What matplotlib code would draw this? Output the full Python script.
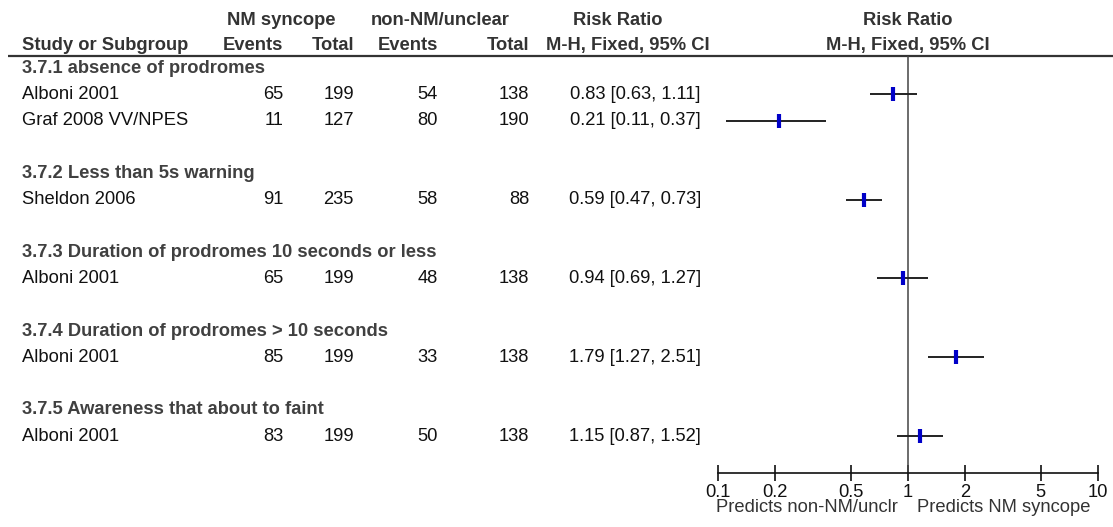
import matplotlib
matplotlib.use("Agg")
import matplotlib.pyplot as plt
import numpy as np

plt.rcParams['font.family'] = ['Liberation Sans', 'DejaVu Sans']

# --- data ---
groups = ["3.7.1 absence of prodromes",
          "3.7.2 Less than 5s warning",
          "3.7.3 Duration of prodromes 10 seconds or less",
          "3.7.4 Duration of prodromes > 10 seconds",
          "3.7.5 Awareness that about to faint"]
studies = ["Alboni 2001", "Graf 2008 VV/NPES", "Sheldon 2006",
           "Alboni 2001", "Alboni 2001", "Alboni 2001"]
study_group = [0, 0, 1, 2, 3, 4]
nm_events = [65, 11, 91, 65, 85, 83]
nm_total = [199, 127, 235, 199, 199, 199]
non_events = [54, 80, 58, 48, 33, 50]
non_total = [138, 190, 88, 138, 138, 138]
rr = [0.83, 0.21, 0.59, 0.94, 1.79, 1.15]
ci_lo = [0.63, 0.11, 0.47, 0.69, 1.27, 0.87]
ci_hi = [1.11, 0.37, 0.73, 1.27, 2.51, 1.52]
ticks = [0.1, 0.2, 0.5, 1, 2, 5, 10]
tick_labels = ["0.1", "0.2", "0.5", "1", "2", "5", "10"]
left_label = "Predicts non-NM/unclr"
right_label = "Predicts NM syncope"

# --- layout (pixels of a 1113x527 canvas) ---
W, H = 1113, 527
ROW0, ROW_H = 68, 26.3          # y of first row, row spacing
AX_TOP, AX_BOT = 56, 473        # header rule / forest axis line
FX0, FX1 = 718, 1098            # forest x-range (0.1 .. 10)
FS = 13.2
HEAD_C = "#333333"
TXT_C = "#111111"


def row_of(px):
    return (px - ROW0) / ROW_H


# assign rows: group header, its studies, blank line
group_rows, study_rows = [], []
r = 0
for g in range(len(groups)):
    group_rows.append(r)
    r += 1
    for i, sg in enumerate(study_group):
        if sg == g:
            study_rows.append(r)
            r += 1
    r += 1

fig = plt.figure(figsize=(W / 100, H / 100), dpi=100)

# table axes over the whole canvas
tab = fig.add_axes([0, 0, 1, 1])
tab.set_xlim(0, W)
tab.set_ylim(row_of(H), row_of(0))
tab.axis("off")

# column headers
tab.text(281, row_of(20), "NM syncope", ha="center", va="center", fontsize=FS, weight="bold", color=HEAD_C)
tab.text(440, row_of(20), "non-NM/unclear", ha="center", va="center", fontsize=FS, weight="bold", color=HEAD_C)
tab.text(618, row_of(20), "Risk Ratio", ha="center", va="center", fontsize=FS, weight="bold", color=HEAD_C)
tab.text(908, row_of(20), "Risk Ratio", ha="center", va="center", fontsize=FS, weight="bold", color=HEAD_C)
tab.text(22, row_of(45), "Study or Subgroup", ha="left", va="center", fontsize=FS, weight="bold", color=HEAD_C)
col_x = [283, 354, 438, 529]
col_h = ["Events", "Total", "Events", "Total"]
for x, h in zip(col_x, col_h):
    tab.text(x, row_of(45), h, ha="right", va="center", fontsize=FS, weight="bold", color=HEAD_C)
tab.text(628, row_of(45), "M-H, Fixed, 95% CI", ha="center", va="center", fontsize=FS, weight="bold", color=HEAD_C)
tab.text(908, row_of(45), "M-H, Fixed, 95% CI", ha="center", va="center", fontsize=FS, weight="bold", color=HEAD_C)
tab.plot([8, W], [row_of(AX_TOP)] * 2, color="#333333", lw=1.6, solid_capstyle="butt")

for g, yr in zip(groups, group_rows):
    tab.text(22, yr, g, ha="left", va="center", fontsize=FS, weight="bold", color="#404040")

for i, yr in enumerate(study_rows):
    tab.text(22, yr, studies[i], ha="left", va="center", fontsize=FS, color=TXT_C)
    vals = [nm_events[i], nm_total[i], non_events[i], non_total[i]]
    for x, v in zip(col_x, vals):
        tab.text(x, yr, str(v), ha="right", va="center", fontsize=FS, color=TXT_C)
    tab.text(635, yr, f"{rr[i]:.2f} [{ci_lo[i]:.2f}, {ci_hi[i]:.2f}]",
             ha="center", va="center", fontsize=FS, color=TXT_C)

# forest axes
ax = fig.add_axes([FX0 / W, 1 - AX_BOT / H, (FX1 - FX0) / W, (AX_BOT - AX_TOP) / H])
ax.set_xscale("log")
ax.set_xlim(0.1, 10)
ax.set_ylim(row_of(AX_BOT), row_of(AX_TOP))
ax.patch.set_alpha(0)
for s in ["top", "left", "right"]:
    ax.spines[s].set_visible(False)
ax.spines["bottom"].set_linewidth(1.2)
ax.spines["bottom"].set_color("#111111")
ax.set_yticks([])
ax.set_xticks(ticks)
ax.set_xticklabels(tick_labels)
ax.minorticks_off()
ax.tick_params(axis="x", direction="inout", length=12, width=1.2, colors="#111111",
               labelsize=FS, pad=2)
ax.axvline(1, color="#444444", lw=1.1)

for i, yr in enumerate(study_rows):
    ax.plot([ci_lo[i], ci_hi[i]], [yr, yr], color="#222222", lw=1.4, solid_capstyle="butt")
    ax.plot(rr[i], yr, marker="|", markersize=9.5, mew=3, color="#0000C8")

ax.annotate(left_label, xy=(1, 0), xycoords=("data", "axes fraction"),
            xytext=(-10, -35), textcoords="offset pixels", ha="right", va="center",
            fontsize=FS, color="#333333")
ax.annotate(right_label, xy=(1, 0), xycoords=("data", "axes fraction"),
            xytext=(9, -35), textcoords="offset pixels", ha="left", va="center",
            fontsize=FS, color="#333333")

fig.savefig("out.png", dpi=100)
